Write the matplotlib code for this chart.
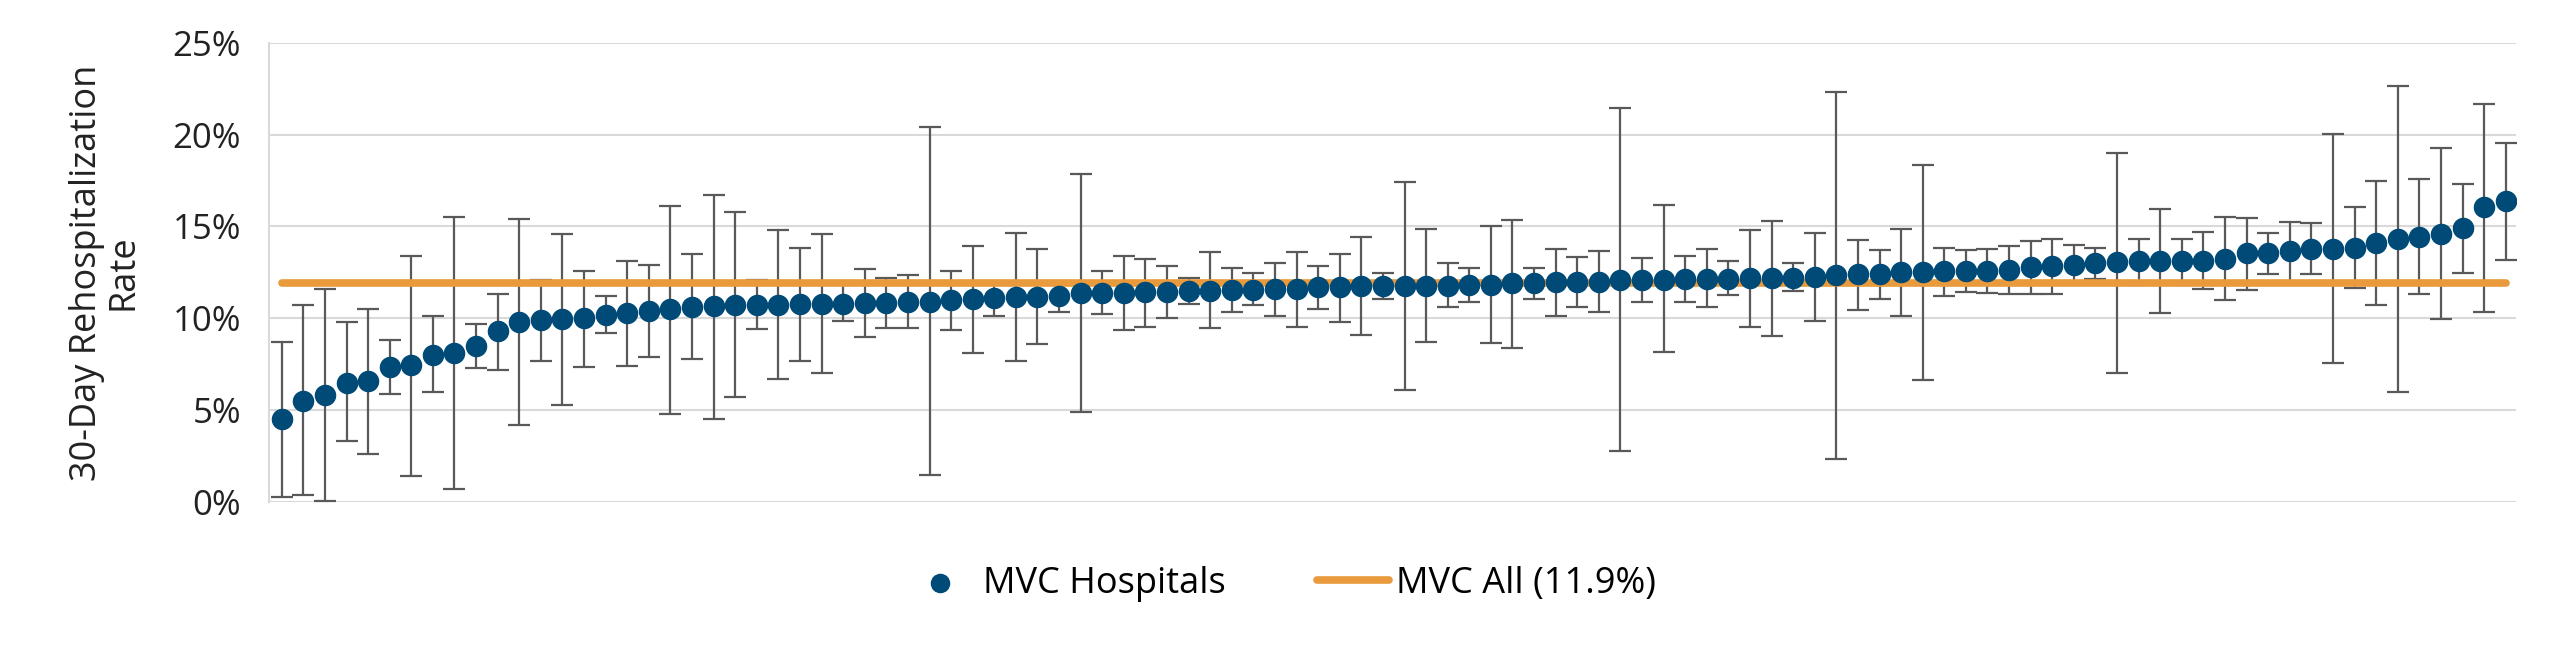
import matplotlib
matplotlib.use("Agg")
import matplotlib.pyplot as plt
from matplotlib.ticker import PercentFormatter
import numpy as np

plt.rcParams["font.family"] = ["Open Sans", "DejaVu Sans"]

# hospital rates (%) sorted ascending, with CI bounds
rate = [4.5, 5.5, 5.8, 6.5, 6.6, 7.35, 7.45, 8.0, 8.1, 8.5,
        9.3, 9.8, 9.9, 9.95, 10.0, 10.2, 10.3, 10.4, 10.5, 10.6,
        10.65, 10.7, 10.75, 10.75, 10.8, 10.8, 10.8, 10.84, 10.84, 10.9,
        10.9, 11.0, 11.05, 11.1, 11.15, 11.15, 11.2, 11.4, 11.4, 11.4,
        11.45, 11.45, 11.5, 11.5, 11.55, 11.55, 11.6, 11.6, 11.7, 11.7,
        11.75, 11.75, 11.75, 11.75, 11.75, 11.8, 11.8, 11.9, 11.9, 11.95,
        11.95, 11.95, 12.1, 12.1, 12.1, 12.15, 12.15, 12.15, 12.2, 12.2,
        12.2, 12.25, 12.35, 12.4, 12.4, 12.5, 12.5, 12.55, 12.6, 12.6,
        12.65, 12.8, 12.85, 12.9, 13.0, 13.05, 13.1, 13.1, 13.1, 13.1,
        13.25, 13.55, 13.55, 13.65, 13.75, 13.75, 13.85, 14.1, 14.3, 14.45,
        14.6, 14.9, 16.05, 16.4]
upper = [8.7, 10.7, 11.6, 9.8, 10.5, 8.8, 13.4, 10.1, 15.5, 9.7,
         11.3, 15.4, 12.1, 14.6, 12.6, 11.2, 13.1, 12.9, 16.1, 13.5,
         16.7, 15.8, 12.1, 14.8, 13.8, 14.6, 11.9, 12.7, 12.2, 12.35,
         20.4, 12.55, 13.95, 11.9, 14.65, 13.75, 11.9, 17.85, 12.55, 13.4,
         13.25, 12.85, 12.2, 13.6, 12.75, 12.45, 13.0, 13.6, 12.85, 13.5,
         14.45, 12.45, 17.4, 14.85, 13.0, 12.75, 15.0, 15.35, 12.75, 13.75,
         13.35, 13.65, 21.45, 13.3, 16.15, 13.4, 13.75, 13.1, 14.8, 15.3,
         13.0, 14.65, 22.3, 14.25, 13.7, 14.85, 18.35, 13.8, 13.7, 13.75,
         13.95, 14.2, 14.3, 14.0, 13.8, 19.0, 14.3, 15.95, 14.3, 14.7,
         15.5, 15.45, 14.65, 15.25, 15.2, 20.05, 16.05, 17.45, 22.65, 17.6,
         19.25, 17.3, 21.65, 19.55]
lower = [0.3, 0.4, 0.05, 3.3, 2.6, 5.9, 1.4, 6.0, 0.7, 7.3,
         7.2, 4.2, 7.7, 5.3, 7.35, 9.2, 7.4, 7.9, 4.8, 7.8,
         4.5, 5.7, 9.4, 6.7, 7.7, 7.0, 9.85, 9.0, 9.5, 9.45,
         1.5, 9.35, 8.1, 10.15, 7.7, 8.6, 10.35, 4.9, 10.25, 9.35,
         9.55, 10.0, 10.8, 9.5, 10.35, 10.7, 10.15, 9.55, 10.5, 9.8,
         9.1, 11.05, 6.1, 8.7, 10.6, 10.9, 8.65, 8.4, 11.05, 10.1,
         10.6, 10.35, 2.8, 10.9, 8.15, 10.9, 10.6, 11.25, 9.55, 9.05,
         11.5, 9.85, 2.35, 10.45, 11.05, 10.1, 6.65, 11.2, 11.45, 11.4,
         11.35, 11.35, 11.35, 11.9, 12.15, 7.0, 11.8, 10.3, 11.8, 11.6,
         11.0, 11.55, 12.4, 11.9, 12.4, 7.55, 11.65, 10.75, 6.0, 11.3,
         9.95, 12.45, 10.35, 13.2]
mvc_all = 11.9
legend_labels = ["MVC Hospitals", "MVC All (11.9%)"]

rate = np.array(rate)
x = np.arange(len(rate))
yerr = np.vstack([rate - np.array(lower), np.array(upper) - rate])

fig = plt.figure(figsize=(25.6, 6.47), dpi=100)
ax = fig.add_axes([0.105, 0.224, 0.878, 0.71])

ax.errorbar(x, rate, yerr=yerr, fmt="none", ecolor="#595959",
            elinewidth=1.6, capsize=8, capthick=1.6, zorder=2)
ax.plot([x[0], x[-1]], [mvc_all, mvc_all], color="#E89A3C", lw=5.5,
        solid_capstyle="round", zorder=3, label=legend_labels[1])
ax.scatter(x, rate, s=210, color="#004A77", zorder=4, label=legend_labels[0])

ax.set_xlim(-0.6, len(rate) - 0.5)
ax.set_ylim(0, 25)
ax.set_yticks(np.arange(0, 26, 5))
ax.yaxis.set_major_formatter(PercentFormatter(decimals=0))
ax.set_xticks([])
ax.grid(axis="y", color="#d9d9d9", lw=1.5)
ax.set_axisbelow(True)
for s in ["top", "right", "bottom"]:
    ax.spines[s].set_visible(False)
ax.spines["left"].set_color("#d9d9d9")
ax.spines["left"].set_linewidth(1.5)
ax.tick_params(axis="y", length=0, labelsize=25, pad=20, colors="#222222")
ax.set_ylabel("30-Day Rehospitalization\nRate", fontsize=26, color="#222222",
              labelpad=22, linespacing=1.05)

h, l = ax.get_legend_handles_labels()
fig.legend(h[::-1], l[::-1], loc="lower center", bbox_to_anchor=(0.5, 0.02),
           ncol=2, frameon=False, fontsize=26, handlelength=2.0,
           handletextpad=0.2, columnspacing=2.5, markerscale=0.9)

fig.savefig("out.png", dpi=100)
